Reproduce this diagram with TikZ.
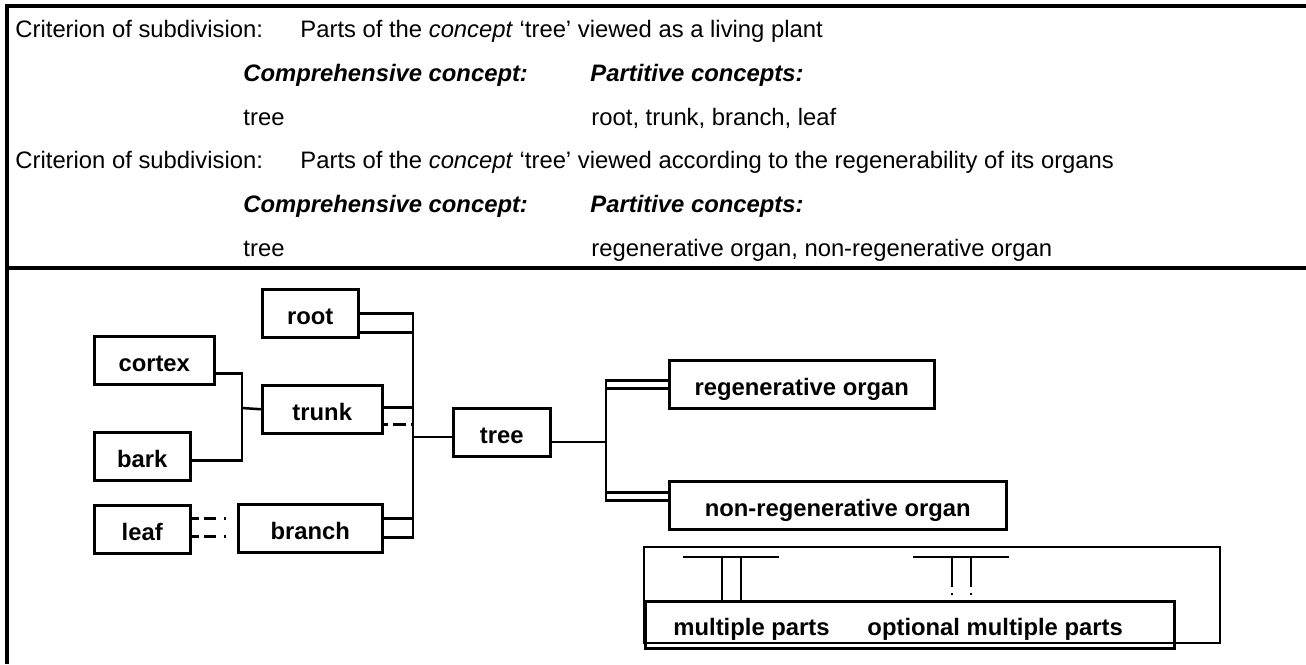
\documentclass[tikz,border=0pt]{standalone}
\usepackage{fontspec}
\setmainfont{Liberation Sans}
\usetikzlibrary{positioning,calc}
\newcommand{\upx}{0.42pt}

\begin{document}
\begin{tikzpicture}
			[x=\upx, y=-\upx,
			 part/.style={draw, line width=1.05pt, font=\bfseries, inner sep=0pt, anchor=north west,
			   minimum height=48*\upx, text height=1.8ex, text depth=0pt},
			 txt/.style={anchor=base west, inner sep=0pt},
			 link/.style={line width=1.05pt},
			 frame/.style={line width=1.3pt},
			 trunkdash/.style={dash pattern=on 1.68pt off 2.1pt on 5.46pt off 2.1pt on 4.2pt off 2pt},
			 leafdash/.style={dash pattern=on 2.94pt off 2.1pt on 5.04pt off 3.36pt on 0.84pt off 6pt},
			 keydash/.style={dash pattern=on 12.6pt off 2.5pt on 0.84pt off 3pt}]
			\useasboundingbox (0,0) rectangle (1306,664);
			\draw[frame] (1306,6) -- (7,6) -- (7,664);
			\draw[frame] (7,268) -- (1306,268);
			% criteria
			\node[txt] (crit1) at (15,37) {Criterion of subdivision:};
			\node[txt] (view1) at (300,37) {Parts of the \textit{concept} ‘tree’ viewed as a living plant};
			\node[txt] (comp1) at (243,81) {\textbf{\textit{Comprehensive concept:}}};
			\node[txt] (part1) at (590,81) {\textbf{\textit{Partitive concepts:}}};
			\node[txt] (tree1) at (243,125) {tree};
			\node[txt] (list1) at (591,125) {root, trunk, branch, leaf};
			\node[txt] (crit2) at (15,168) {Criterion of subdivision:};
			\node[txt] (view2) at (300,168) {Parts of the \textit{concept} ‘tree’ viewed according to the regenerability of its organs};
			\node[txt] (comp2) at (243,212) {\textbf{\textit{Comprehensive concept:}}};
			\node[txt] (part2) at (590,212) {\textbf{\textit{Partitive concepts:}}};
			\node[txt] (tree2) at (243,256) {tree};
			\node[txt] (list2) at (591,256) {regenerative organ, non-regenerative organ};
			% diagram
			\node[part, minimum width=96*\upx] (root) at (261,288) {root};
			\node[part, minimum width=120*\upx] (cortex) at (93,335) {cortex};
			\node[part, minimum width=120*\upx] (trunk) at (261,384) {trunk};
			\node[part, minimum width=96*\upx] (bark) at (93,431) {bark};
			\node[part, minimum width=96*\upx] (leaf) at (93,504) {leaf};
			\node[part, minimum width=144*\upx] (branch) at (237,503) {branch};
			\node[part, minimum width=97*\upx] (tree) at (452,407) {tree};
			\node[part, minimum width=265*\upx] (regen) at (668,359) {regenerative organ};
			\node[part, minimum width=337*\upx] (nonregen) at (668,480) {non-regenerative organ};
			\coordinate (jt) at (242,408);
			\coordinate (jl) at (413,437);
			\coordinate (jr) at (606,442);
			\draw[link] ($(cortex.east)+(0,13)$) -| (jt) |- ($(bark.east)+(0,4)$);
			\draw[link] (jt) -- (trunk.west);
			\draw[link] (root.east) -| (jl);
			\draw[link] ($(root.east)+(0,19)$) -| (jl);
			\draw[link] ($(trunk.east)+(0,-2)$) -| (jl);
			\draw[link, trunkdash] ($(trunk.east)+(0,15)$) -| (jl);
			\draw[link] ($(branch.east)+(0,-10)$) -| (jl);
			\draw[link] ($(branch.east)+(0,9)$) -| (jl);
			\draw[link, leafdash] ($(leaf.east)+(0,-11)$) -- ($(branch.west)+(0,-10)$);
			\draw[link, leafdash] ($(leaf.east)+(0,7)$) -- ($(branch.west)+(0,8)$);
			\draw[link] (jl) -- (jl -| tree.west);
			\draw[link] (jr -| tree.east) -- (jr);
			\draw[link] ($(regen.west)+(0,-4)$) -| (jr);
			\draw[link] ($(regen.west)+(0,4)$) -| (jr);
			\draw[link] ($(nonregen.west)+(0,-13)$) -| (jr);
			\draw[link] ($(nonregen.west)+(0,-5)$) -| (jr);
			% key
			\draw[link] (644,547) rectangle (1220,643);
			\node[part, minimum width=529*\upx, minimum height=47*\upx] (key) at (644,600) {};
			\node[txt, font=\bfseries] (kmulti) at (673,635) {multiple parts};
			\node[txt, font=\bfseries] (kopt) at (867,635) {optional multiple parts};
			\draw[link] (683,557) -- (779,557) (913,557) -- (1009,557);
			\draw[link] (722,557) -- (722,600) (741,557) -- (741,600);
			\draw[link, keydash] (952,557) -- (952,600) (971,557) -- (971,600);
			\end{tikzpicture}
\end{document}
